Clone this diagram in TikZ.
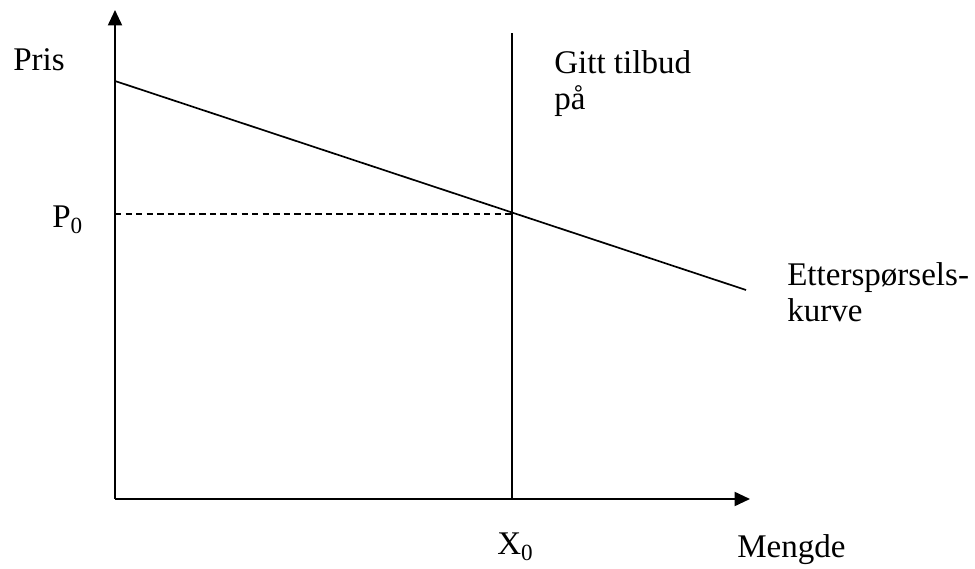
\documentclass[tikz,border=0pt]{standalone}
\usepackage{fontspec}
\setmainfont{Liberation Serif}
\usetikzlibrary{arrows.meta,positioning}
\tikzset{
  axis/.style={line width=1.4pt, -{Triangle[length=11pt,width=10pt]}},
  curve/.style={line width=1.2pt},
  lbl/.style={inner sep=0pt, anchor=base west, align=left, font=\fontsize{23.5pt}{25.6pt}\selectfont}
}
\begin{document}
\begin{tikzpicture}[x=0.025cm, y=-0.025cm]
\useasboundingbox (0,0) rectangle (975,569);
% axes
\coordinate (O) at (115,499);
\coordinate (ytop) at (115,10);
\coordinate (xend) at (750,499);
\draw[axis] (O) -- (ytop);
\draw[axis] (O) -- (xend);
% supply and demand
\coordinate (stop) at (512,33);
\coordinate (sbot) at (512,499);
\coordinate (dstart) at (115,81);
\coordinate (dend) at (746,290);
\coordinate (E) at (512,214);
\coordinate (P) at (115,214);
\draw[curve] (sbot) -- (stop);
\draw[curve] (dstart) -- (dend);
\draw[curve, dash pattern=on 4.5pt off 3pt] (P) -- (E);
% labels
\node[lbl] (pris) at (13,71) {Pris};
\node[lbl] (p0) at (52,228) {P\textsubscript{0}};
\node[lbl] (x0) at (497,555) {X\textsubscript{0}};
\node[lbl] (mengde) at (737,558) {Mengde};
\node[lbl] (gitt) at (554,110) {Gitt tilbud\\på};
\node[lbl] (ettersp) at (787,322) {Etterspørsels-\\kurve};
\end{tikzpicture}
\end{document}
